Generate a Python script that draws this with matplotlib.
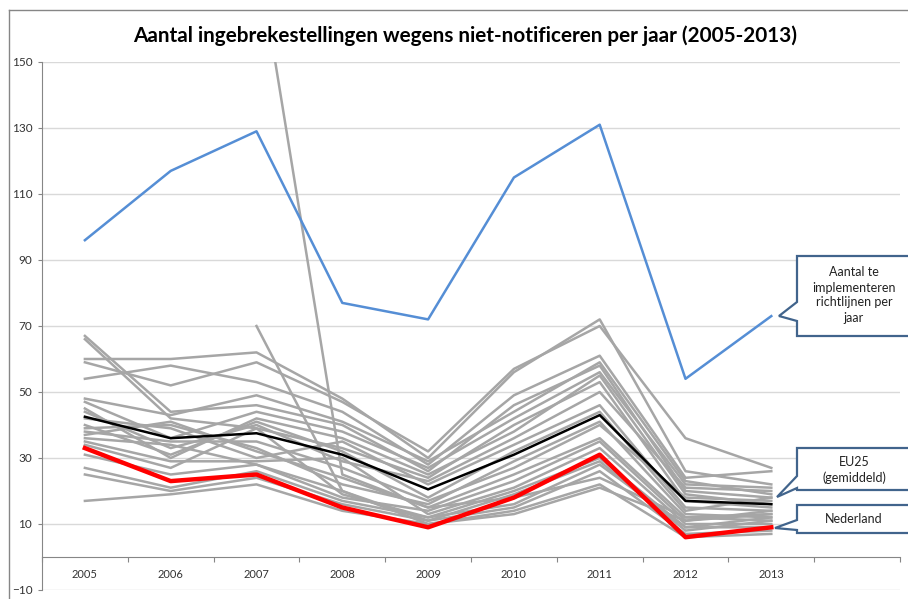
import matplotlib
matplotlib.use('Agg')
import matplotlib.pyplot as plt
import numpy as np
from matplotlib.patches import Polygon

nan = np.nan
years = ['2005', '2006', '2007', '2008', '2009', '2010', '2011', '2012', '2013']
y_ticks = [-10, 10, 30, 50, 70, 90, 110, 130, 150]

richtlijnen = [96, 117, 129, 77, 72, 115, 131, 54, 73]
eu25 = [42.5, 36, 37.5, 31, 20.5, 31, 43, 17, 16]
nederland = [33, 23, 25, 15, 9, 18, 31, 6, 9]

overige_lidstaten = [
    [67, 44, 46, 40, 26, 46, 58, 20, 18],
    [66, 42, 39, 33, 24, 40, 53, 17, 15],
    [60, 60, 62, 48, 30, 56, 72, 26, 22],
    [59, 52, 59, 47, 32, 57, 70, 36, 27],
    [54, 58, 53, 44, 28, 49, 61, 24, 26],
    [48, 43, 49, 41, 29, 44, 59, 23, 19],
    [47, 36, 44, 38, 27, 42, 56, 22, 21],
    [45, 30, 42, 36, 25, 38, 55, 19, 16],
    [44, 33, 40, 29, 23, 36, 50, 21, 20],
    [42, 39, 30, 35, 22, 34, 46, 15, 14],
    [40, 31, 41, 32, 18, 32, 44, 14, 18],
    [39, 40, 33, 22, 16, 29, 41, 13, 12],
    [38, 35, 35, 27, 17, 27, 40, 18, 17],
    [37, 41, 32, 24, 15, 25, 36, 12, 11],
    [36, 34, 28, 18, 14, 23, 35, 11, 13],
    [35, 29, 29, 30, 13, 21, 33, 10, 10],
    [34, 27, 39, 19, 12, 20, 30, 9, 12],
    [31, 25, 28, 20, 11, 19, 29, 8, 11],
    [27, 21, 26, 17, 12, 16, 28, 9, 9],
    [25, 20, 24, 16, 11, 15, 26, 7, 8],
    [17, 19, 22, 14, 10, 14, 22, 6, 7],
    [nan, nan, 185, 25, 15, 18, 24, 12, 13],
    [nan, nan, 70, 20, 10, 13, 21, 11, 14],
]

title = 'Aantal ingebrekestellingen wegens niet-notificeren per jaar (2005-2013)'
label_richtlijnen = 'Aantal te\nimplementeren\nrichtlijnen per\njaar'
label_eu25 = 'EU25\n(gemiddeld)'
label_nl = 'Nederland'

FONT = 'Lato'
W, H = 908, 599
fig = plt.figure(figsize=(W / 100, H / 100), dpi=100)
fig.patch.set_facecolor('white')

def P(x, y):
    return (x / W, 1 - y / H)

ax = fig.add_axes([42 / W, 9 / H, 858 / W, 528 / H])
ax.set_xlim(-0.5, 9.5)
ax.set_ylim(-10, 150)

x = np.arange(len(years))
for row in overige_lidstaten:
    ax.plot(x, row, color='#a6a6a6', lw=1.8, zorder=2)
ax.plot(x, richtlijnen, color='#558ed5', lw=1.8, zorder=3)
ax.plot(x, eu25, color='black', lw=1.8, zorder=4)
ax.plot(x, nederland, color='#ff0000', lw=3.2, zorder=5)

# grid and axes
ax.set_yticks(y_ticks)
ax.yaxis.grid(True, color='#d9d9d9', lw=1.0)
ax.set_axisbelow(True)
for s in ['top', 'right']:
    ax.spines[s].set_visible(False)
ax.spines['left'].set_color('#868686')
ax.spines['bottom'].set_color('#868686')
ax.spines['bottom'].set_position(('data', 0))
ax.tick_params(axis='y', direction='out', length=3, width=0.8, color='#868686',
               pad=4, labelsize=8.5, labelcolor='#333333')
ax.set_xticks(np.arange(-0.5, 10, 1.0))
ax.set_xticklabels([])
ax.set_xticks(x, minor=True)
ax.set_xticklabels(years, minor=True)
ax.tick_params(axis='x', which='major', direction='out', length=3.5, width=0.8, color='#868686')
ax.tick_params(axis='x', which='minor', length=0, pad=9, labelsize=8, labelcolor='#333333')
for lab in ax.get_yticklabels() + ax.get_xticklabels(minor=True):
    lab.set_family(FONT)

# outer chart border
fig.add_artist(plt.Line2D([9 / W, 9 / W], [0, 1 - 10 / H], transform=fig.transFigure,
                          color='#868686', lw=1.0))
fig.add_artist(plt.Line2D([9 / W, 1], [1 - 10 / H, 1 - 10 / H], transform=fig.transFigure,
                          color='#868686', lw=1.0))

# title
t = fig.text(*P(465, 36), title, ha='center', va='center', fontsize=13,
             fontweight='bold', family=FONT, color='black')
fig.canvas.draw()
r = fig.canvas.get_renderer()
wpx = t.get_window_extent(r).width
t.set_fontsize(13 * 664 / wpx)

# callouts
edge = '#41648c'
def callout(pts, text, cx, cy):
    poly = Polygon([P(a, b) for a, b in pts], closed=True, transform=fig.transFigure,
                   facecolor='white', edgecolor=edge, lw=1.6, zorder=10, clip_on=False)
    fig.add_artist(poly)
    return fig.text(*P(cx, cy), text, ha='center', va='center', fontsize=9,
                    family=FONT, color='#222222', linespacing=1.3, zorder=11)

callout([(797, 256), (915, 256), (915, 336), (797, 336), (797, 321), (779, 316), (797, 302)],
        label_richtlijnen, 854, 295)
callout([(797, 448), (915, 448), (915, 490), (797, 490), (797, 488), (777, 497), (797, 476)],
        label_eu25, 854, 470)
callout([(797, 505), (915, 505), (915, 533), (797, 533), (797, 530), (775, 528), (797, 520)],
        label_nl, 854, 519)

fig.savefig('out.png', dpi=100, facecolor='white')
